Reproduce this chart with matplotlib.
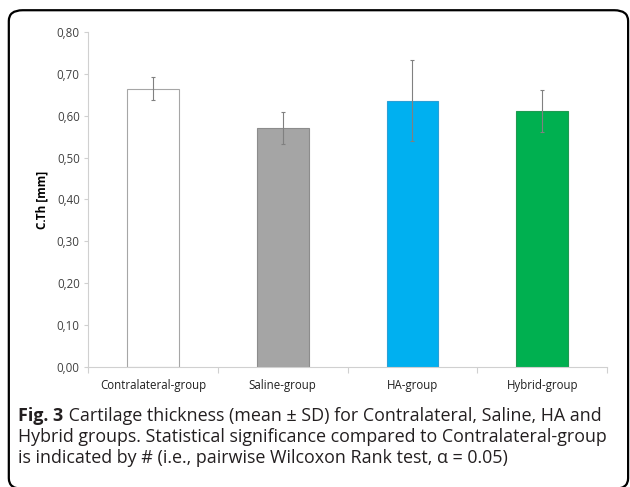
import matplotlib.pyplot as plt
from matplotlib.patches import FancyBboxPatch
from matplotlib.ticker import FixedLocator

# cartilage thickness per group (mean and SD, mm)
groups = ["Contralateral-group", "Saline-group", "HA-group", "Hybrid-group"]
means = [0.665, 0.571, 0.636, 0.611]
sds = [0.028, 0.038, 0.097, 0.050]
colors = ["#ffffff", "#a5a5a5", "#00b0f0", "#00b050"]
edges = ["#a6a6a6", "#8c8c8c", "#2a9fd6", "#1f9a50"]
yticks = [0.0, 0.1, 0.2, 0.3, 0.4, 0.5, 0.6, 0.7, 0.8]

plt.rcParams['font.family'] = ['Open Sans', 'DejaVu Sans']

fig = plt.figure(figsize=(6.3, 4.87), dpi=100)

# rounded frame around figure + caption
frame = FancyBboxPatch((0.014, -0.004), 0.983, 0.983,
                       boxstyle="round,pad=0,rounding_size=0.022",
                       transform=fig.transFigure, fill=False,
                       edgecolor="black", linewidth=1.6, clip_on=False)
fig.patches.append(frame)

ax = fig.add_axes([0.1397, 0.247, 0.824, 0.687])
x = list(range(len(groups)))
ax.bar(x, means, width=0.4, color=colors, edgecolor=edges, linewidth=0.8,
       yerr=sds, ecolor="#808080",
       error_kw=dict(elinewidth=0.8, capsize=1.5, capthick=0.8))

ax.set_xlim(-0.5, len(groups) - 0.5)
ax.set_ylim(0, 0.8)
ax.set_yticks(yticks)
ax.set_yticklabels([("%.2f" % v).replace(".", ",") for v in yticks],
                   fontsize=8.3, color="#404040")
ax.set_xticks(x)
ax.set_xticklabels(groups, fontsize=8.3, color="#202020")
ax.xaxis.set_minor_locator(FixedLocator([i - 0.5 for i in range(len(groups) + 1)]))
ax.tick_params(axis="x", which="major", length=0, pad=8.5)
ax.tick_params(axis="x", which="minor", length=4, color="#d0d0d0", width=0.8)
ax.tick_params(axis="y", length=3, color="#d0d0d0", width=0.8, pad=3)

for side in ["top", "right"]:
    ax.spines[side].set_visible(False)
for side in ["left", "bottom"]:
    ax.spines[side].set_color("#d0d0d0")
    ax.spines[side].set_linewidth(0.8)

ax.set_ylabel("C.Th [mm]", fontsize=8.5, fontweight="bold", labelpad=6)

# caption below the plot
cap_color = "#231f20"
fs = 12.9
t = fig.text(0.029, 1 - 421 / 487, "Fig. 3", fontsize=fs, fontweight="bold",
             color=cap_color, va="baseline")
ax.annotate(" Cartilage thickness (mean ± SD) for Contralateral, Saline, HA and",
            xy=(1, 0), xycoords=t, fontsize=fs, color=cap_color,
            va="bottom", ha="left", annotation_clip=False)
fig.text(0.029, 1 - 442 / 487,
         "Hybrid groups. Statistical significance compared to Contralateral-group",
         fontsize=fs, color=cap_color, va="baseline")
fig.text(0.029, 1 - 463 / 487,
         "is indicated by # (i.e., pairwise Wilcoxon Rank test, α = 0.05)",
         fontsize=fs, color=cap_color, va="baseline")

fig.savefig("out.png", dpi=100)
